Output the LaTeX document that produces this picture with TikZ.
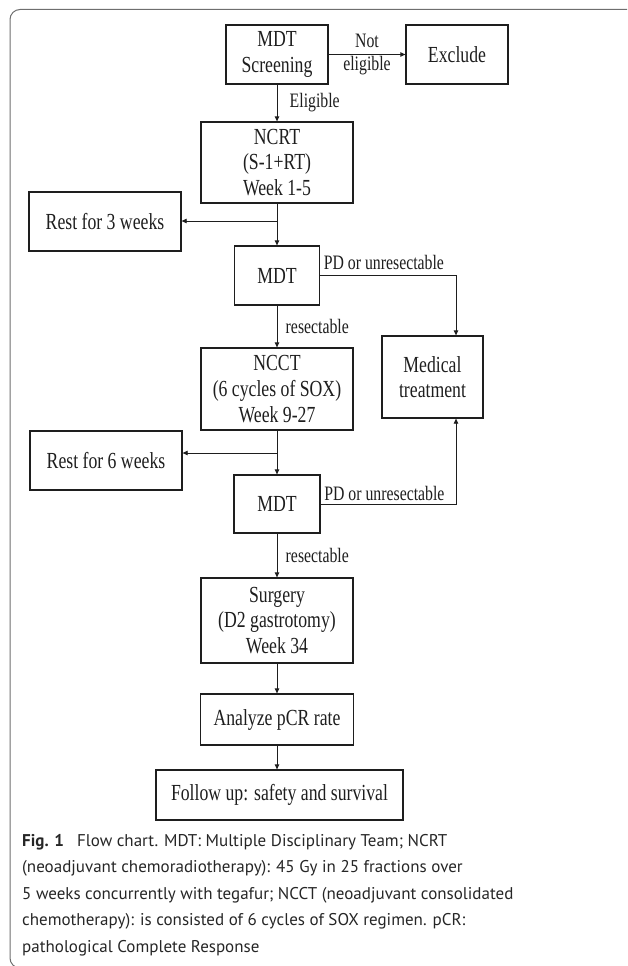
\documentclass[tikz,border=0pt]{standalone}
\usepackage{fontspec}
\setmainfont{Liberation Serif}[FakeStretch=0.77]
\newfontfamily\capfont{PT Sans}
\usetikzlibrary{arrows.meta,positioning}
\definecolor{ink}{HTML}{1E1E1E}
\definecolor{capink}{HTML}{262626}
\definecolor{framegray}{HTML}{6E6E6E}

\begin{document}
\begin{tikzpicture}[x=1pt, y=-1pt,
   every node/.style={text=ink},
   box/.style={draw=ink, line width=1.3pt, align=center, inner sep=0pt,
     font=\fontsize{23}{25.7}\selectfont},
   lab/.style={font=\fontsize{20.5}{23}\selectfont},
   link/.style={draw=ink, line width=0.8pt, -{Triangle[length=5pt,width=4.5pt]}}]
\useasboundingbox (0,0) rectangle (627,966);
\clip (0,0) rectangle (627,966);
\draw[framegray, line width=1pt, rounded corners=10pt]
  (640,9.5) -- (10,9.5) -- (10,968) -- (640,968);

% boxes
\node[box, minimum width=102pt, minimum height=59pt] (scr)   at (277,54.5)  {MDT\\Screening};
\node[box, minimum width=102pt, minimum height=59pt] (excl)  at (457,54.5)  {Exclude};
\node[box, minimum width=152pt, minimum height=81pt] (ncrt)  at (277,162.5) {NCRT\\(S-1+RT)\\Week 1-5};
\node[box, minimum width=152pt, minimum height=59pt] (rest3) at (105,221.5) {Rest for 3 weeks};
\node[box, minimum width=85pt,  minimum height=59pt] (mdt1)  at (277,275.5) {MDT};
\node[box, minimum width=152pt, minimum height=82pt] (ncct)  at (277,389)   {NCCT\\(6 cycles of SOX)\\Week 9-27};
\node[box, minimum width=101pt, minimum height=82pt] (med)   at (432.5,377) {Medical\\treatment};
\node[box, minimum width=152pt, minimum height=59pt] (rest6) at (106,460.5) {Rest for 6 weeks};
\node[box, minimum width=86pt,  minimum height=58pt] (mdt2)  at (277,504)   {MDT};
\node[box, minimum width=152pt, minimum height=85pt] (surg)  at (277,620.5) {Surgery\\(D2 gastrotomy)\\Week 34};
\node[box, minimum width=153pt, minimum height=51pt] (anl)   at (277,719.5) {Analyze pCR rate};
\node[box, minimum width=247pt, minimum height=50pt] (fol)   at (279.5,795) {Follow up: safety and survival};

\coordinate (br1) at (277,221);
\coordinate (br2) at (277,453);
\coordinate (medx) at (456,0);

% connectors
\draw[link] (scr.east) -- node[lab, align=center]{Not\\eligible} (excl.west);
\draw[link] (scr.south) -- node[lab, right=9pt]{Eligible} (ncrt.north);
\draw[link] (ncrt.south) -- (mdt1.north);
\draw[link] (br1) -- (br1 -| rest3.east);
\draw[link] (mdt1.east) node[lab, above right, yshift=2pt]{PD or unresectable} -| (medx |- med.north);
\draw[link] (mdt1.south) -- node[lab, right=5pt]{resectable} (ncct.north);
\draw[link] (ncct.south) -- (mdt2.north);
\draw[link] (br2) -- (br2 -| rest6.east);
\draw[link] (mdt2.east) node[lab, above right]{PD or unresectable} -| (medx |- med.south);
\draw[link] (mdt2.south) -- node[lab, right=5pt]{resectable} (surg.north);
\draw[link] (surg.south) -- (anl.north);
\draw[link] (anl.south) -- (anl.south |- fol.north);

% caption
\node[anchor=north west, align=left, inner sep=0pt, text=capink,
  font=\capfont\fontsize{17}{26.5}\selectfont] (cap) at (22,834)
  {\textbf{Fig. 1}\hspace{0.5em} Flow chart. MDT: Multiple Disciplinary Team; NCRT\\
   (neoadjuvant chemoradiotherapy): 45 Gy in 25 fractions over\\
   5 weeks concurrently with tegafur; NCCT (neoadjuvant consolidated\\
   chemotherapy): is consisted of 6 cycles of SOX regimen. pCR:\\
   pathological Complete Response};
\end{tikzpicture}
\end{document}
